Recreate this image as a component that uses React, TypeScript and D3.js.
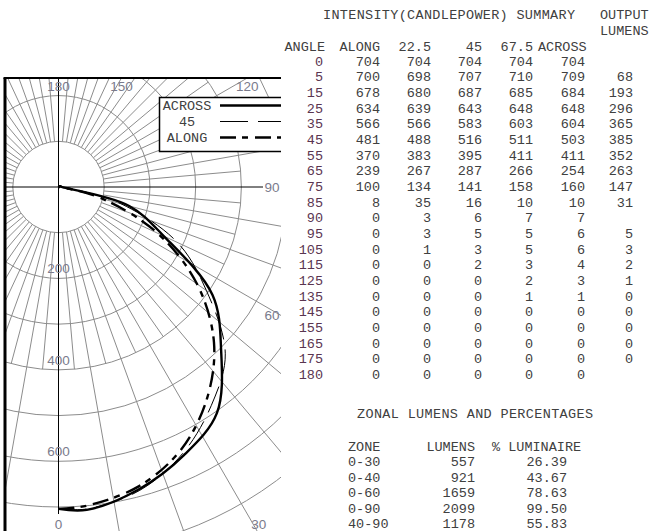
import React from 'react';
import * as d3 from 'd3';

// candlepower table, one array per column
const angles = [0, 5, 15, 25, 35, 45, 55, 65, 75, 85, 90, 95, 105, 115, 125, 135, 145, 155, 165, 175, 180];
const along = [704, 700, 678, 634, 566, 481, 370, 239, 100, 8, 0, 0, 0, 0, 0, 0, 0, 0, 0, 0, 0];
const plane225 = [704, 698, 680, 639, 566, 488, 383, 267, 134, 35, 3, 3, 1, 0, 0, 0, 0, 0, 0, 0, 0];
const plane45 = [704, 707, 687, 643, 583, 516, 395, 287, 141, 16, 6, 5, 3, 2, 0, 0, 0, 0, 0, 0, 0];
const plane675 = [704, 710, 685, 648, 603, 511, 411, 266, 158, 10, 7, 5, 5, 3, 2, 1, 0, 0, 0, 0, 0];
const across = [704, 709, 684, 648, 604, 503, 411, 254, 160, 10, 7, 6, 6, 4, 3, 1, 0, 0, 0, 0, 0];
const outputLumens = [null, 68, 193, 296, 365, 385, 352, 263, 147, 31, null, 5, 3, 2, 1, 0, 0, 0, 0, 0, null];

const zones = ['0-30', '0-40', '0-60', '0-90', '40-90'];
const zoneLumens = [557, 921, 1659, 2099, 1178];
const zonePct = ['26.39', '43.67', '78.63', '99.50', '55.83'];

const ringLabels = [200, 400, 600];
const angleLabels = [0, 30, 60, 90, 120, 150, 180];

const W = 652;
const H = 531;
const mono = '"Liberation Mono", "DejaVu Sans Mono", monospace';
const sans = '"Liberation Sans", Arial, sans-serif';

// polar plot frame
const cx = 58.5;
const cy = 187;
const box = { x0: 6, y0: 78, x1: 281, y1: 534 };
const r = d3.scaleLinear().domain([0, 700]).range([0, 320]);
const rad = (deg: number) => (deg * Math.PI) / 180;
// 0 deg points down, angles grow towards the right
const pt = (deg: number, v: number) => [cx + r(v) * Math.sin(rad(deg)), cy + r(v) * Math.cos(rad(deg))];

// where a spoke leaves the frame
function edgeHit(deg: number) {
  const dx = Math.sin(rad(deg));
  const dy = Math.cos(rad(deg));
  const ts: number[] = [];
  if (dx > 1e-6) ts.push((box.x1 - cx) / dx);
  if (dx < -1e-6) ts.push((box.x0 - cx) / dx);
  if (dy > 1e-6) ts.push((box.y1 - cy) / dy);
  if (dy < -1e-6) ts.push((box.y0 - cy) / dy);
  const t = Math.min(...ts);
  return [cx + t * dx, cy + t * dy];
}

const curveOf = (vals: number[]) =>
  d3
    .lineRadial<number>()
    .angle((_, i) => Math.PI - rad(angles[i]))
    .radius((v) => r(v))
    .curve(d3.curveCatmullRom)(vals) as string;

const series = [
  { name: 'ACROSS', vals: across, width: 2.4, dash: '' },
  { name: '45', vals: plane45, width: 1, dash: '28,10' },
  { name: 'ALONG', vals: along, width: 2.4, dash: '16,6,6,7' },
];

const cols = [
  { head: 'ALONG', vals: along, x: 380 },
  { head: '22.5', vals: plane225, x: 431 },
  { head: '45', vals: plane45, x: 482 },
  { head: '67.5', vals: plane675, x: 533 },
];

export default function App() {
  const rings = d3.range(100, 1000, 100);
  const spokes10 = d3.range(10, 360, 10).filter((a) => a % 90 !== 0);
  const spokes5 = d3.range(5, 360, 10);
  const rowY = (i: number) => 65.5 + i * 15.68;
  const txt = '#404040';

  return (
    <svg width={W} height={H} style={{ position: 'absolute', left: 0, top: 0, background: '#fff' }}>
      <defs>
        <clipPath id="frame">
          <rect x={box.x0} y={box.y0} width={box.x1 - box.x0} height={box.y1 - box.y0} />
        </clipPath>
      </defs>

      <g clipPath="url(#frame)">
        <g fill="none" stroke="#8c8c8c" strokeWidth={1}>
          {rings.map((v) => (
            <circle key={v} cx={cx} cy={cy} r={r(v)} />
          ))}
          {spokes10.map((a) => {
            const [x1, y1] = pt(a, 100);
            const [x2, y2] = pt(a, 1100);
            return <line key={a} x1={x1} y1={y1} x2={x2} y2={y2} />;
          })}
          {spokes5.map((a) => {
            const [x1, y1] = pt(a, 100);
            const [x2, y2] = pt(a, 400);
            return <line key={'h' + a} x1={x1} y1={y1} x2={x2} y2={y2} />;
          })}
        </g>
        <g stroke="#000" strokeWidth={1}>
          <line x1={cx} y1={box.y0} x2={cx} y2={box.y1 - 20} />
          <line x1={box.x0} y1={cy} x2={box.x1 - 18} y2={cy} />
        </g>

        {ringLabels.map((v) => (
          <text key={v} x={cx} y={cy + r(v) - 5} textAnchor="middle" fontFamily={sans} fontSize={13.5} fill="#7a7b8c">
            {v}
          </text>
        ))}
        {angleLabels.map((a) => {
          const [hx, hy] = edgeHit(a);
          const x = Math.max(box.x0 + 12, Math.min(box.x1 - 9, hx));
          const y = Math.max(box.y0 + 8, Math.min(box.y1 - 10, hy));
          return (
            <text key={a} x={x} y={y + 5} textAnchor="middle" fontFamily={sans} fontSize={13.5} fill="#7a7b8c">
              {a}
            </text>
          );
        })}

        {series.map((s) => (
          <path key={s.name} d={curveOf(s.vals)} transform={`translate(${cx},${cy})`} fill="none" stroke="#000" strokeWidth={s.width} strokeDasharray={s.dash} />
        ))}

        <g>
          <rect x={159.5} y={97.5} width={140} height={54} fill="#fff" stroke="#000" strokeWidth={1.5} />
          {series.map((s, i) => (
            <g key={s.name}>
              <text x={187} y={110 + i * 16} textAnchor="middle" fontFamily={mono} fontSize={13.5} fill={txt}>
                {s.name}
              </text>
              <line x1={220} x2={290} y1={105.5 + i * 16} y2={105.5 + i * 16} stroke="#000" strokeWidth={s.width} strokeDasharray={s.dash} />
            </g>
          ))}
        </g>
      </g>
      <line x1={box.x0 - 1} y1={box.y0} x2={box.x0 - 1} y2={H} stroke="#000" strokeWidth={3} />
      <line x1={box.x0 - 2.5} y1={box.y0} x2={box.x1} y2={box.y0} stroke="#000" strokeWidth={2} />

      {/* candlepower summary */}
      <g fontFamily={mono} fontSize={13.5} fill={txt}>
        <text x={323} y={19} textLength={252}>INTENSITY(CANDLEPOWER) SUMMARY</text>
        <text x={600} y={19}>OUTPUT</text>
        <text x={600} y={35}>LUMENS</text>
        <text x={325} y={50.5} textAnchor="end">ANGLE</text>
        {cols.map((c) => (
          <text key={c.head} x={c.x} y={50.5} textAnchor="end">{c.head}</text>
        ))}
        <text x={538} y={50.5}>ACROSS</text>
        {angles.map((a, i) => (
          <g key={a}>
            <text x={323} y={rowY(i)} textAnchor="end" fill="#5a3550">{a}</text>
            {cols.map((c) => (
              <text key={c.head} x={c.x} y={rowY(i)} textAnchor="end">{c.vals[i]}</text>
            ))}
            <text x={585} y={rowY(i)} textAnchor="end">{across[i]}</text>
            {outputLumens[i] !== null && (
              <text x={633} y={rowY(i)} textAnchor="end">{outputLumens[i]}</text>
            )}
          </g>
        ))}

        <text x={357} y={417.5} textLength={236}>ZONAL LUMENS AND PERCENTAGES</text>
        <text x={348} y={450.5}>ZONE</text>
        <text x={475} y={450.5} textAnchor="end">LUMENS</text>
        <text x={492} y={450.5}>% LUMINAIRE</text>
        {zones.map((z, i) => (
          <g key={z}>
            <text x={348} y={466 + i * 15.6}>{z}</text>
            <text x={475} y={466 + i * 15.6} textAnchor="end">{zoneLumens[i]}</text>
            <text x={567} y={466 + i * 15.6} textAnchor="end">{zonePct[i]}</text>
          </g>
        ))}
      </g>
    </svg>
  );
}
